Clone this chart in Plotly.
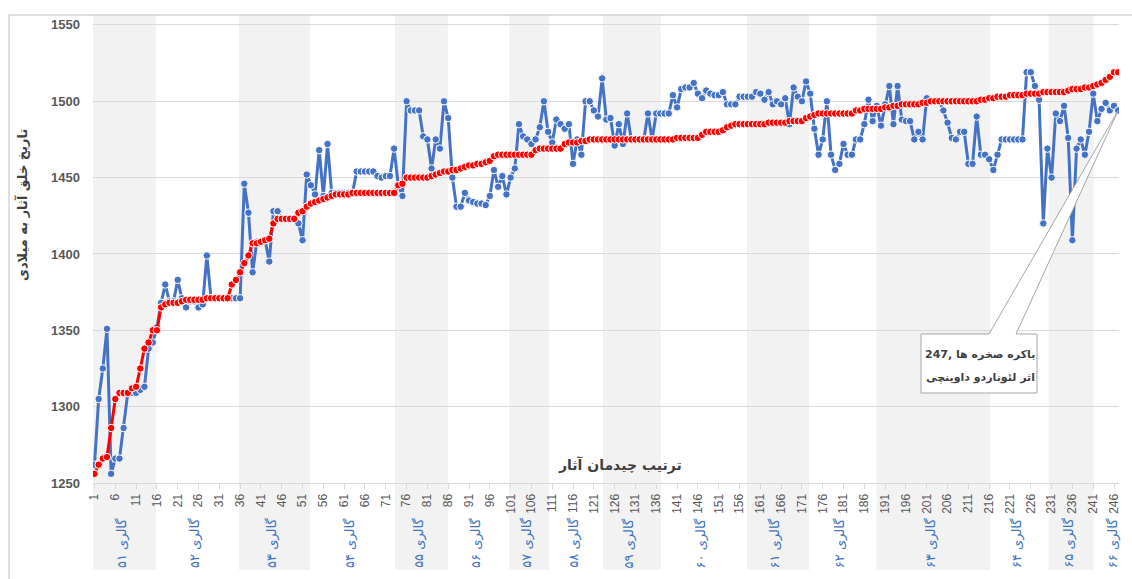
import plotly.graph_objects as go

# ---------------- data ----------------
order = list(range(1, 248))

actual_dates = [
    1262, 1305, 1325, 1351, 1256, 1266, 1266, 1286, 1309, 1309,
    1309, 1311, 1313, 1338, 1342, 1352, 1368, 1380, 1369, 1369,
    1383, 1371, 1365, 1369, 1369, 1365, 1367, 1399, 1371, 1371,
    1371, 1371, 1371, 1371, 1371, 1371, 1446, 1427, 1388, 1408,
    1408, 1409, 1395, 1428, 1428, 1423, 1423, 1423, 1423, 1420,
    1409, 1452, 1445, 1439, 1468, 1438, 1472, 1440, 1440, 1440,
    1440, 1440, 1440, 1454, 1454, 1454, 1454, 1454, 1451, 1450,
    1451, 1451, 1469, 1445, 1438, 1500, 1494, 1494, 1494, 1477,
    1475, 1456, 1475, 1469, 1500, 1489, 1450, 1431, 1431, 1440,
    1435, 1434, 1433, 1433, 1432, 1438, 1455, 1444, 1451, 1439,
    1450, 1456, 1485, 1477, 1475, 1472, 1475, 1483, 1500, 1480,
    1473, 1488, 1485, 1482, 1485, 1459, 1475, 1465, 1500, 1500,
    1494, 1490, 1515, 1488, 1489, 1471, 1485, 1472, 1492, 1475,
    1475, 1475, 1475, 1492, 1475, 1492, 1492, 1492, 1492, 1504,
    1496, 1508, 1509, 1509, 1512, 1505, 1502, 1507, 1505, 1504,
    1504, 1506, 1498, 1498, 1498, 1503, 1503, 1503, 1503, 1506,
    1505, 1501, 1506, 1498, 1500, 1498, 1502, 1485, 1509, 1503,
    1500, 1513, 1505, 1482, 1465, 1475, 1500, 1465, 1455, 1459,
    1472, 1465, 1465, 1475, 1475, 1485, 1501, 1487, 1497, 1484,
    1498, 1510, 1485, 1510, 1488, 1487, 1487, 1475, 1480, 1475,
    1502, 1500, 1500, 1500, 1494, 1486, 1476, 1475, 1480, 1480,
    1459, 1459, 1490, 1465, 1465, 1462, 1455, 1465, 1475, 1475,
    1475, 1475, 1475, 1475, 1519, 1519, 1510, 1501, 1420, 1469,
    1450, 1492, 1487, 1497, 1476, 1409, 1469, 1475, 1465, 1480,
    1505, 1487, 1495, 1499, 1494, 1497, 1494,
]

ideal_dates = [
    1256, 1262, 1266, 1267, 1286, 1305, 1309, 1309, 1309, 1312,
    1313, 1325, 1338, 1342, 1350, 1350, 1365, 1367, 1368, 1368,
    1368, 1369, 1370, 1370, 1370, 1370, 1370, 1371, 1371, 1371,
    1371, 1371, 1371, 1380, 1383, 1388, 1394, 1399, 1407, 1407,
    1408, 1409, 1410, 1420, 1423, 1423, 1423, 1423, 1423, 1427,
    1428, 1431, 1433, 1434, 1435, 1436, 1437, 1438, 1439, 1439,
    1439, 1439, 1440, 1440, 1440, 1440, 1440, 1440, 1440, 1440,
    1440, 1440, 1440, 1445, 1446, 1450, 1450, 1450, 1450, 1450,
    1450, 1451, 1452, 1453, 1454, 1454, 1455, 1455, 1456, 1457,
    1458, 1458, 1459, 1459, 1460, 1461, 1464, 1465, 1465, 1465,
    1465, 1465, 1465, 1465, 1465, 1465, 1468, 1469, 1469, 1469,
    1469, 1469, 1469, 1472, 1473, 1473, 1473, 1474, 1474, 1475,
    1475, 1475, 1475, 1475, 1475, 1475, 1475, 1475, 1475, 1475,
    1475, 1475, 1475, 1475, 1475, 1475, 1475, 1475, 1475, 1475,
    1476, 1476, 1476, 1476, 1476, 1476, 1478, 1480, 1480, 1480,
    1480, 1481, 1483, 1484, 1485, 1485, 1485, 1485, 1485, 1485,
    1485, 1485, 1486, 1486, 1486, 1486, 1486, 1487, 1487, 1487,
    1487, 1489, 1490, 1491, 1492, 1492, 1492, 1492, 1492, 1492,
    1492, 1492, 1492, 1494, 1494, 1495, 1495, 1495, 1495, 1495,
    1496, 1496, 1497, 1497, 1498, 1498, 1498, 1498, 1498, 1499,
    1499, 1500, 1500, 1500, 1500, 1500, 1500, 1500, 1500, 1500,
    1500, 1500, 1500, 1501, 1501, 1502, 1502, 1503, 1503, 1503,
    1504, 1504, 1504, 1504, 1505, 1505, 1505, 1505, 1506, 1506,
    1506, 1506, 1506, 1506, 1507, 1508, 1508, 1508, 1509, 1509,
    1510, 1511, 1512, 1514, 1516, 1519, 1519,
]

assert len(actual_dates) == 247, len(actual_dates)
assert len(ideal_dates) == 247, len(ideal_dates)

x_tick_vals = list(range(1, 247, 5))
x_tick_text = [str(v) for v in x_tick_vals]
y_tick_vals = [1250, 1300, 1350, 1400, 1450, 1500, 1550]

gallery_names = ['گالری ۵۱', 'گالری ۵۲', 'گالری ۵۳', 'گالری ۵۴', 'گالری ۵۵',
                 'گالری ۵۶', 'گالری ۵۷', 'گالری ۵۸', 'گالری ۵۹', 'گالری ۶۰',
                 'گالری ۶۱', 'گالری ۶۲', 'گالری ۶۳', 'گالری ۶۴', 'گالری ۶۵',
                 'گالری ۶۶']
# gallery boundaries along the item axis
gallery_edges = [0.64, 15.8, 35.7, 52.8, 73.2, 85.9, 100.6, 110.3, 123.2,
                 137.1, 157.8, 172.7, 188.9, 216.3, 230.3, 241.1, 247.2]

callout_item = 247
callout_line1 = '<b>247, باکره صخره ها</b>'
callout_line2 = '<b>اثر لئوناردو داوینچی</b>'

# ---------------- layout helpers ----------------
W, H = 1132, 579
ML, MR, MT, MB = 93, 13, 15, 96
X0, X1 = 0.64, 247.2
Y0, Y1 = 1250, 1556.5
PW, PH = W - ML - MR, H - MT - MB


def px(i):
    return (i - X0) / (X1 - X0)


def py(v):
    return (v - Y0) / (Y1 - Y0)


def fx(p):  # pixel -> paper x
    return (p - ML) / PW


def fy(p):  # pixel -> paper y
    return (H - MB - p) / PH


fig = go.Figure()

fig.add_trace(go.Scatter(
    x=order, y=actual_dates, mode='lines+markers',
    line=dict(color='#4472C4', width=3),
    marker=dict(size=7.5, color='#4472C4', line=dict(color='white', width=1)),
    showlegend=False, hoverinfo='x+y'))

fig.add_trace(go.Scatter(
    x=order, y=ideal_dates, mode='lines+markers',
    line=dict(color='#FF0000', width=3),
    marker=dict(size=7.5, color='#FF0000', line=dict(color='white', width=1)),
    showlegend=False, hoverinfo='x+y'))

shapes = []
annotations = []
band_bottom = fy(570)
for k, name in enumerate(gallery_names):
    a, b = gallery_edges[k], gallery_edges[k + 1]
    if k % 2 == 0:
        shapes.append(dict(type='rect', xref='paper', yref='paper',
                           x0=px(a), x1=px(b), y0=band_bottom, y1=1,
                           fillcolor='#F2F2F2', line=dict(width=0),
                           layer='below'))
    cx = (a + b) / 2 - 0.6
    if k == len(gallery_names) - 1:
        cx = 245.8
    annotations.append(dict(
        xref='paper', yref='paper', x=px(cx), y=fy(543),
        text=name, textangle=-90, showarrow=False,
        xanchor='center', yanchor='middle',
        font=dict(family='DejaVu Sans', size=13, color='#4472C4')))

# outer frame lines (left and top)
shapes.append(dict(type='line', xref='paper', yref='paper',
                   x0=fx(9), x1=fx(9), y0=fy(15), y1=fy(582),
                   line=dict(color='#BFBFBF', width=1)))
shapes.append(dict(type='line', xref='paper', yref='paper',
                   x0=fx(9), x1=fx(1140), y0=fy(15), y1=fy(15),
                   line=dict(color='#BFBFBF', width=1)))

# callout box with pointer to the last artwork
tipx, tipy = px(callout_item), py(actual_dates[callout_item - 1])
bx0, bx1, by0, by1 = fx(921), fx(1037), fy(334), fy(393)
bl, br = fx(989), fx(1016)
path = (f'M {bx0},{by0} L {bl},{by0} L {tipx},{tipy} L {br},{by0} '
        f'L {bx1},{by0} L {bx1},{by1} L {bx0},{by1} Z')
shapes.append(dict(type='path', xref='paper', yref='paper', path=path,
                   fillcolor='white', line=dict(color='#A6A6A6', width=1),
                   layer='above'))
for txt, ypx in ((callout_line1, 354), (callout_line2, 377)):
    annotations.append(dict(
        xref='paper', yref='paper', x=fx(980), y=fy(ypx),
        text=txt, showarrow=False, align='center',
        xanchor='center', yanchor='middle',
        font=dict(family='DejaVu Sans', size=11, color='#404040')))

# axis titles
annotations.append(dict(
    xref='paper', yref='paper', x=fx(22), y=fy(205),
    text='<b>تاریخ خلق آثار به میلادی</b>', textangle=-90, showarrow=False,
    xanchor='center', yanchor='middle',
    font=dict(family='DejaVu Sans', size=13, color='#404040')))
annotations.append(dict(
    xref='paper', yref='paper', x=fx(620), y=fy(465),
    text='<b>ترتیب چیدمان آثار</b>', showarrow=False,
    xanchor='center', yanchor='middle',
    font=dict(family='DejaVu Sans', size=14, color='#404040')))

fig.update_layout(
    width=W, height=H,
    margin=dict(l=ML, r=MR, t=MT, b=MB, autoexpand=False),
    paper_bgcolor='white', plot_bgcolor='rgba(0,0,0,0)',
    shapes=shapes, annotations=annotations,
    xaxis=dict(range=[X0, X1], tickmode='array', tickvals=x_tick_vals,
               ticktext=x_tick_text, tickangle=-90, showgrid=False,
               zeroline=False, showline=True, linecolor='#D9D9D9',
               ticks='outside', ticklen=5, tickcolor='#D9D9D9',
               tickfont=dict(family='Liberation Sans', size=12,
                             color='#595959')),
    yaxis=dict(range=[Y0, Y1], tickmode='array', tickvals=y_tick_vals,
               showgrid=True, gridcolor='#D9D9D9', gridwidth=1,
               zeroline=False, showline=False, ticks='',
               ticklabelstandoff=12,
               tickfont=dict(family='Liberation Sans', size=13,
                             color='#595959', weight='bold')),
)

fig.write_html('out.html',
               config={'displayModeBar': False},
               post_script="document.body.style.margin='0';"
                           "document.body.style.overflow='hidden';")
